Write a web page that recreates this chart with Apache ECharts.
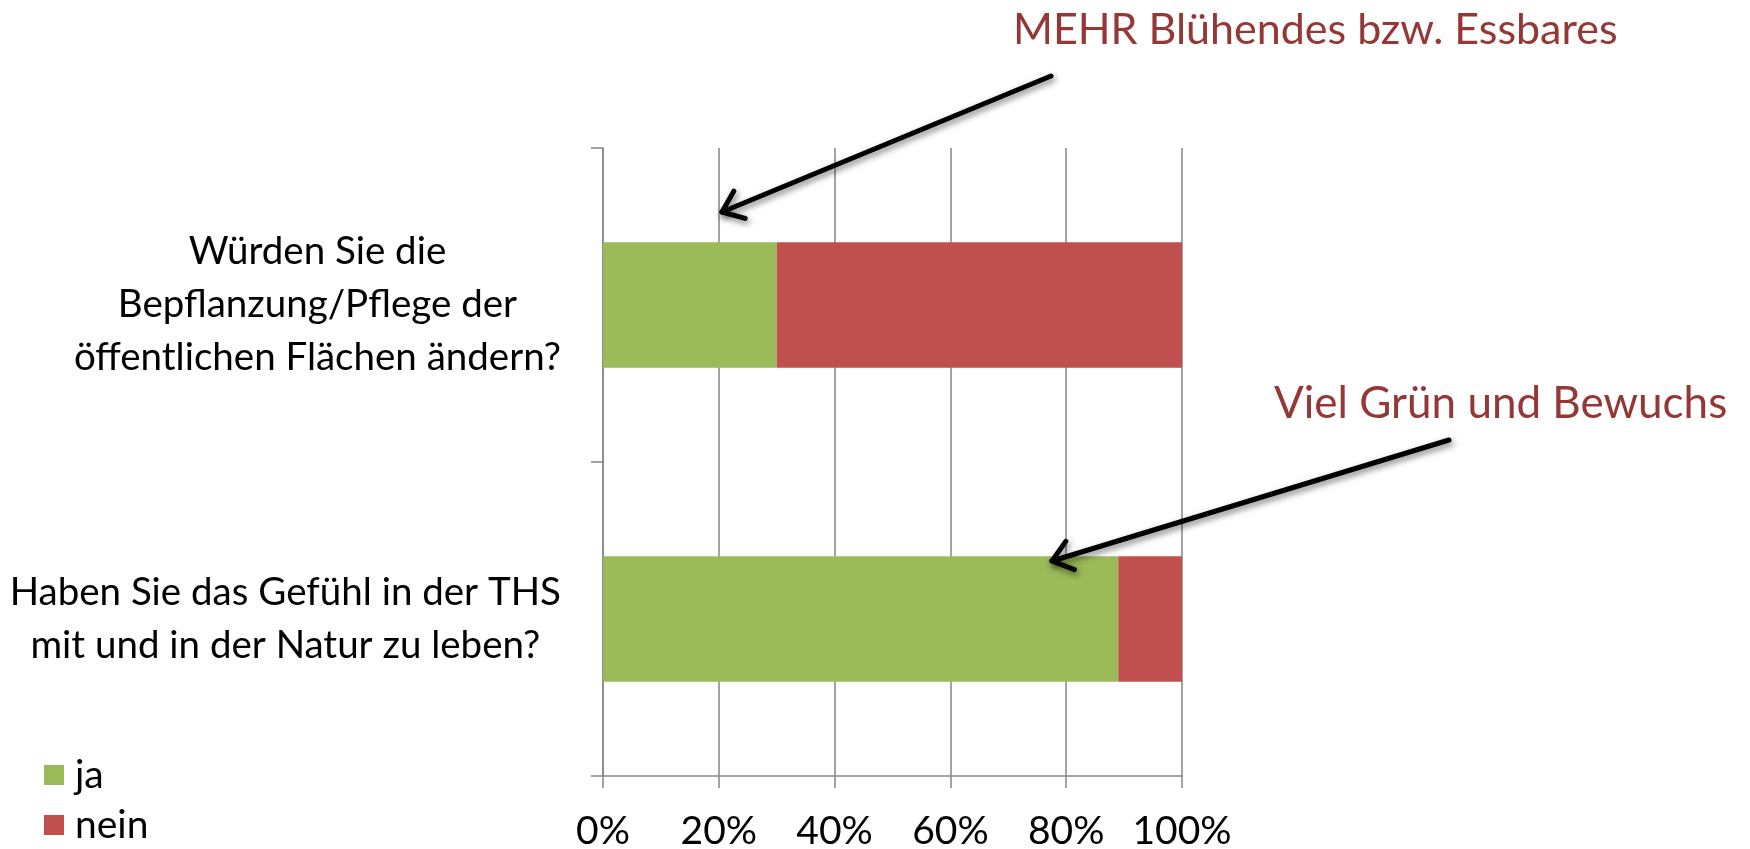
<!DOCTYPE html>
<html>
<head>
<meta charset="utf-8">
<script src="https://cdn.jsdelivr.net/npm/echarts@6/dist/echarts.min.js"></script>
<style>
  html, body { margin: 0; padding: 0; background: #fff; }
  #chart { width: 1750px; height: 849px; }
</style>
</head>
<body>
<div id="chart"></div>
<script>
// categories, bottom to top (like the Excel bar chart)
const categories = [
  "Haben Sie das Gefühl in der THS\nmit und in der Natur zu leben?",
  "Würden Sie die\nBepflanzung/Pflege der\nöffentlichen Flächen ändern?",
];
const jaValues = [89, 30];
const neinValues = [11, 70];
const xTicks = [0, 20, 40, 60, 80, 100];

const notes = [
  { text: "MEHR Blühendes bzw. Essbares", size: 43, x: 1013, y: 30, tail: [1051, 76], tip: [722, 212] },
  { text: "Viel Grün und Bewuchs", size: 44, x: 1274, y: 404, tail: [1449, 440], tip: [1052, 561] },
];

const FONT = "Lato";
const green = "#9bbb59";
const red = "#c0504d";
const gridGrey = "#868686";

function arrow(tail, tip) {
  const dx = tip[0] - tail[0];
  const dy = tip[1] - tail[1];
  const len = Math.sqrt(dx * dx + dy * dy);
  const ux = dx / len, uy = dy / len;
  const px = -uy, py = ux;
  const L = 24, a = 38 * Math.PI / 180;
  const back = L * Math.cos(a), side = L * Math.sin(a);
  const style = {
    stroke: "#000",
    lineWidth: 5,
    lineCap: "round",
    lineJoin: "round",
    fill: null,
    shadowBlur: 6,
    shadowColor: "rgba(0,0,0,0.5)",
    shadowOffsetX: 2,
    shadowOffsetY: 3,
  };
  return [
    {
      type: "line",
      shape: { x1: tail[0], y1: tail[1], x2: tip[0], y2: tip[1] },
      style: style,
      z: 100,
    },
    {
      type: "polyline",
      shape: {
        points: [
          [tip[0] - ux * back + px * side, tip[1] - uy * back + py * side],
          [tip[0], tip[1]],
          [tip[0] - ux * back - px * side, tip[1] - uy * back - py * side],
        ],
      },
      style: style,
      z: 100,
    },
  ];
}

function initChart() {
  const chart = echarts.init(document.getElementById("chart"));

  const graphics = [];
  notes.forEach(function (n) {
    graphics.push({
      type: "text",
      x: n.x,
      y: n.y,
      style: {
        text: n.text,
        font: n.size + "px " + FONT,
        fill: "#953735",
        textAlign: "left",
        textVerticalAlign: "middle",
      },
      z: 100,
    });
    arrow(n.tail, n.tip).forEach(function (g) { graphics.push(g); });
  });

  const option = {
    animation: false,
    backgroundColor: "#fff",
    textStyle: { fontFamily: FONT },
    legend: {
      data: ["ja", "nein"],
      orient: "vertical",
      left: 39,
      top: 750,
      height: 100,
      itemWidth: 20,
      itemHeight: 20,
      itemGap: 10,
      icon: "rect",
      textStyle: { fontSize: 39, lineHeight: 40, fontFamily: FONT, color: "#000", padding: [0, 0, 0, 6] },
    },
    grid: {
      left: 603,
      right: 568,
      top: 148,
      bottom: 73,
      outerBoundsMode: "none",
    },
    xAxis: {
      type: "value",
      min: 0,
      max: 100,
      interval: 20,
      axisLine: { show: true, lineStyle: { color: gridGrey, width: 1.5 } },
      axisTick: { show: true, length: 12, lineStyle: { color: gridGrey, width: 1.5 } },
      splitLine: { show: true, lineStyle: { color: gridGrey, width: 1.5 } },
      axisLabel: {
        fontSize: 39,
        fontFamily: FONT,
        color: "#000",
        margin: 36,
        formatter: function (v) { return xTicks.indexOf(v) >= 0 ? v + "%" : ""; },
      },
    },
    yAxis: {
      type: "category",
      data: categories,
      axisLine: { show: true, lineStyle: { color: gridGrey, width: 1.5 } },
      axisTick: { show: true, length: 12, lineStyle: { color: gridGrey, width: 1.5 } },
      axisLabel: {
        margin: 42,
        formatter: function (v) {
          return v.split("\n").map(function (l) { return "{c|" + l + "}"; }).join("\n");
        },
        rich: {
          c: { align: "center", fontSize: 38.5, fontFamily: FONT, color: "#000", lineHeight: 53 },
        },
      },
    },
    series: [
      {
        name: "ja",
        type: "bar",
        stack: "all",
        barWidth: "40%",
        itemStyle: { color: green },
        data: jaValues,
      },
      {
        name: "nein",
        type: "bar",
        stack: "all",
        barWidth: "40%",
        itemStyle: { color: red },
        data: neinValues,
      },
    ],
    graphic: graphics,
  };

  chart.setOption(option);
}

initChart();
</script>
</body>
</html>
